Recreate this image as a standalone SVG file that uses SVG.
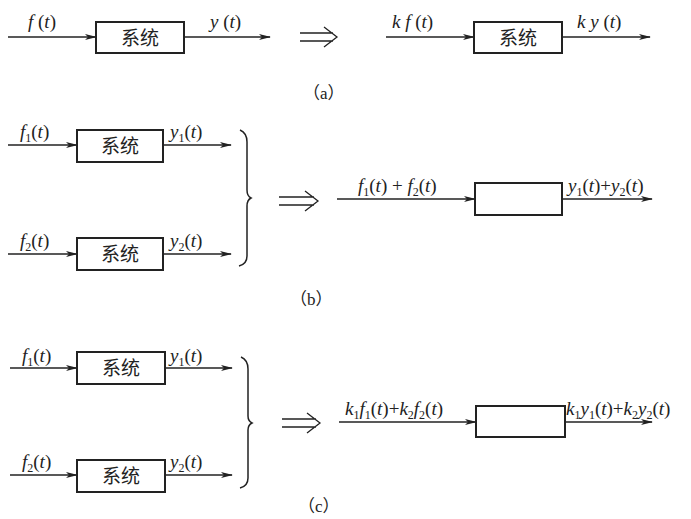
<svg xmlns="http://www.w3.org/2000/svg" width="691" height="519" viewBox="0 0 691 519">
<defs>
<marker id="ah" markerWidth="12" markerHeight="6" refX="11" refY="3" orient="auto" markerUnits="userSpaceOnUse">
<path d="M0,0 L12,3 L0,6 L3,3 Z" fill="#222"/>
</marker>
</defs>
<style>
.ln{stroke:#222;stroke-width:1.3;fill:none}
.bx{stroke:#222;stroke-width:2;fill:#fff}
.m{font-family:"Liberation Serif","Times New Roman",serif;font-size:19px;fill:#222}
.i{font-style:italic}
.s{font-size:12px}
.cn{font-family:"Noto Sans CJK SC",sans-serif;font-size:19px;fill:#222;text-anchor:middle}
.cap{font-family:"Liberation Serif","Noto Sans CJK SC",serif;font-size:17px;fill:#222}
.br{stroke:#222;stroke-width:1.5;fill:none}
</style>
<rect width="691" height="519" fill="#fff"/>

<g id="connectors">
<line class="ln" x1="8" y1="37" x2="96" y2="37" marker-end="url(#ah)"/>
<line class="ln" x1="184" y1="37" x2="270" y2="37" marker-end="url(#ah)"/>
<line class="ln" x1="386" y1="37" x2="474" y2="37" marker-end="url(#ah)"/>
<line class="ln" x1="562" y1="37" x2="650" y2="37" marker-end="url(#ah)"/>

<line class="ln" x1="8" y1="145" x2="77" y2="145" marker-end="url(#ah)"/>
<line class="ln" x1="163" y1="145" x2="231" y2="145" marker-end="url(#ah)"/>
<line class="ln" x1="8" y1="254" x2="77" y2="254" marker-end="url(#ah)"/>
<line class="ln" x1="163" y1="254" x2="231" y2="254" marker-end="url(#ah)"/>
<line class="ln" x1="337" y1="199" x2="475" y2="199" marker-end="url(#ah)"/>
<line class="ln" x1="562" y1="199" x2="652" y2="199" marker-end="url(#ah)"/>

<line class="ln" x1="10" y1="368" x2="77" y2="368" marker-end="url(#ah)"/>
<line class="ln" x1="165" y1="368" x2="232" y2="368" marker-end="url(#ah)"/>
<line class="ln" x1="10" y1="475" x2="77" y2="475" marker-end="url(#ah)"/>
<line class="ln" x1="165" y1="475" x2="232" y2="475" marker-end="url(#ah)"/>
<line class="ln" x1="339" y1="422" x2="476" y2="422" marker-end="url(#ah)"/>
<line class="ln" x1="565" y1="422" x2="652" y2="422" marker-end="url(#ah)"/>
</g>

<g id="implies">
<path class="ln" d="M300,33 H333 M300,41 H333 M324,27 L337,37 L324,47"/>
<path class="ln" d="M279,197 H314 M279,205 H314 M305,191 L318,201 L305,211"/>
<path class="ln" d="M282,419 H316 M282,427 H316 M307,413 L320,423 L307,433"/>
</g>

<g id="braces">
<path class="br" d="M240,130 Q247,133 247,142 V190 Q247,196 251,198 Q247,200 247,206 V256 Q247,264 239,266"/>
<path class="br" d="M241,357 Q248,360 248,369 V416 Q248,421 252,423 Q248,425 248,430 V478 Q248,486 240,488"/>
</g>

<g id="sys-a1"><rect class="bx" x="96" y="22" width="88" height="31"/><text class="cn" x="140" y="45">系统</text></g>
<g id="sys-a2"><rect class="bx" x="474" y="22" width="88" height="31"/><text class="cn" x="518" y="45">系统</text></g>
<g id="sys-b1"><rect class="bx" x="77" y="130" width="86" height="32"/><text class="cn" x="120" y="153">系统</text></g>
<g id="sys-b2"><rect class="bx" x="77" y="238" width="86" height="32"/><text class="cn" x="120" y="261">系统</text></g>
<g id="sys-b3"><rect class="bx" x="475" y="183" width="87" height="32"/></g>
<g id="sys-c1"><rect class="bx" x="77" y="352" width="88" height="32"/><text class="cn" x="121" y="375">系统</text></g>
<g id="sys-c2"><rect class="bx" x="77" y="460" width="88" height="32"/><text class="cn" x="121" y="483">系统</text></g>
<g id="sys-c3"><rect class="bx" x="476" y="406" width="89" height="31"/></g>

<g id="labels">
<text class="m" x="28" y="28"><tspan class="i">f</tspan> (<tspan class="i">t</tspan>)</text>
<text class="m" x="210" y="28"><tspan class="i">y</tspan> (<tspan class="i">t</tspan>)</text>
<text class="m" x="392" y="28"><tspan class="i">k f</tspan> (<tspan class="i">t</tspan>)</text>
<text class="m" x="577" y="28"><tspan class="i">k y</tspan> (<tspan class="i">t</tspan>)</text>
<text class="cap" x="303" y="99">（a）</text>

<text class="m" x="20" y="138"><tspan class="i">f</tspan><tspan class="s" dy="4">1</tspan><tspan dy="-4">(</tspan><tspan class="i">t</tspan>)</text>
<text class="m" x="170" y="138"><tspan class="i">y</tspan><tspan class="s" dy="4">1</tspan><tspan dy="-4">(</tspan><tspan class="i">t</tspan>)</text>
<text class="m" x="20" y="247"><tspan class="i">f</tspan><tspan class="s" dy="4">2</tspan><tspan dy="-4">(</tspan><tspan class="i">t</tspan>)</text>
<text class="m" x="170" y="247"><tspan class="i">y</tspan><tspan class="s" dy="4">2</tspan><tspan dy="-4">(</tspan><tspan class="i">t</tspan>)</text>
<text class="m" x="358" y="192"><tspan class="i">f</tspan><tspan class="s" dy="4">1</tspan><tspan dy="-4">(</tspan><tspan class="i">t</tspan>) + <tspan class="i">f</tspan><tspan class="s" dy="4">2</tspan><tspan dy="-4">(</tspan><tspan class="i">t</tspan>)</text>
<text class="m" x="568" y="192"><tspan class="i">y</tspan><tspan class="s" dy="4">1</tspan><tspan dy="-4">(</tspan><tspan class="i">t</tspan>)+<tspan class="i">y</tspan><tspan class="s" dy="4">2</tspan><tspan dy="-4">(</tspan><tspan class="i">t</tspan>)</text>
<text class="cap" x="290" y="305">（b）</text>

<text class="m" x="22" y="362"><tspan class="i">f</tspan><tspan class="s" dy="4">1</tspan><tspan dy="-4">(</tspan><tspan class="i">t</tspan>)</text>
<text class="m" x="170" y="362"><tspan class="i">y</tspan><tspan class="s" dy="4">1</tspan><tspan dy="-4">(</tspan><tspan class="i">t</tspan>)</text>
<text class="m" x="22" y="468"><tspan class="i">f</tspan><tspan class="s" dy="4">2</tspan><tspan dy="-4">(</tspan><tspan class="i">t</tspan>)</text>
<text class="m" x="170" y="468"><tspan class="i">y</tspan><tspan class="s" dy="4">2</tspan><tspan dy="-4">(</tspan><tspan class="i">t</tspan>)</text>
<text class="m" x="345" y="415"><tspan class="i">k</tspan><tspan class="s" dy="4">1</tspan><tspan class="i" dy="-4">f</tspan><tspan class="s" dy="4">1</tspan><tspan dy="-4">(</tspan><tspan class="i">t</tspan>)+<tspan class="i">k</tspan><tspan class="s" dy="4">2</tspan><tspan class="i" dy="-4">f</tspan><tspan class="s" dy="4">2</tspan><tspan dy="-4">(</tspan><tspan class="i">t</tspan>)</text>
<text class="m" x="566" y="415"><tspan class="i">k</tspan><tspan class="s" dy="4">1</tspan><tspan class="i" dy="-4">y</tspan><tspan class="s" dy="4">1</tspan><tspan dy="-4">(</tspan><tspan class="i">t</tspan>)+<tspan class="i">k</tspan><tspan class="s" dy="4">2</tspan><tspan class="i" dy="-4">y</tspan><tspan class="s" dy="4">2</tspan><tspan dy="-4">(</tspan><tspan class="i">t</tspan>)</text>
<text class="cap" x="298" y="512">（c）</text>
</g>
</svg>
